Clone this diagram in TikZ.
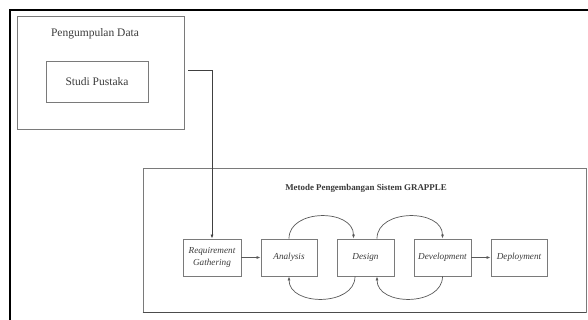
\documentclass[tikz,border=0pt]{standalone}
\usepackage{fontspec}
\setmainfont{Liberation Serif}
\usetikzlibrary{arrows.meta}
\definecolor{boxline}{HTML}{7A7A7A}
\definecolor{txt}{HTML}{3A3A3A}
\tikzset{
  frame/.style={draw=boxline, line width=0.9pt},
  stagebox/.style={draw=boxline, line width=0.9pt, minimum width=58pt, minimum height=37pt,
    inner sep=1pt, font=\itshape\fontsize{9.2}{12}\selectfont, text=txt, align=center},
  arr/.style={draw=black!75, line width=0.7pt, -{Latex[length=4pt,width=3pt]}},
  flow/.style={draw=black!65, line width=0.7pt, -{Latex[length=4pt,width=3pt]}}
}
\begin{document}
\begin{tikzpicture}[x=1pt,y=-1pt]
\useasboundingbox (0,0) rectangle (588,320);
% outer frame
\draw[black, line width=1.1pt] (10,321) -- (10,10) -- (589,10);
% pengumpulan data
\node[frame, minimum width=167pt, minimum height=113pt, inner sep=0pt] (pd) at (100.5,72.5) {};
\node[font=\fontsize{11.5}{13}\selectfont, text=txt] (pdt) at (95,34) {Pengumpulan Data};
\node[frame, minimum width=102pt, minimum height=41pt, inner sep=0pt,
  font=\fontsize{11.5}{13}\selectfont, text=txt] (sp) at (97,81.5) {Studi Pustaka};
% grapple box
\node[frame, minimum width=443pt, minimum height=144pt, inner sep=0pt] (gb) at (364.5,240) {};
\draw[black!70, line width=1.4pt] (gb.south west) -- (gb.south east);
\node[font=\bfseries\fontsize{8.9}{10}\selectfont, text=txt] (gt) at (366,188) {Metode Pengembangan Sistem GRAPPLE};
% stages
\node[stagebox] (rg) at (212,257.5) {Requirement\\Gathering};
\node[stagebox, minimum width=56pt] (an) at (289,257.5) {Analysis};
\node[stagebox, minimum width=57pt] (de) at (365.5,257.5) {Design};
\node[stagebox, minimum width=57pt] (dv) at (442.5,257.5) {Development};
\node[stagebox, minimum width=56pt] (dp) at (519,257.5) {Deployment};
% connectors
\draw[arr] ([xshift=4pt]pd.east |- 0,70) -| (rg.north);
\draw[flow] (rg) -- (an);
\draw[flow] (dv) -- (dp);
\draw[flow] (an.north) .. controls +(0,-30) and +(0,-30) .. ([xshift=-12pt]de.north);
\draw[flow] ([xshift=11.5pt]de.north) .. controls +(0,-30) and +(0,-30) .. (dv.north);
\draw[flow] ([xshift=-10.5pt]de.south) .. controls +(0,30) and +(0,30) .. (an.south);
\draw[flow] (dv.south) .. controls +(0,30) and +(0,30) .. ([xshift=11.5pt]de.south);
\end{tikzpicture}
\end{document}
